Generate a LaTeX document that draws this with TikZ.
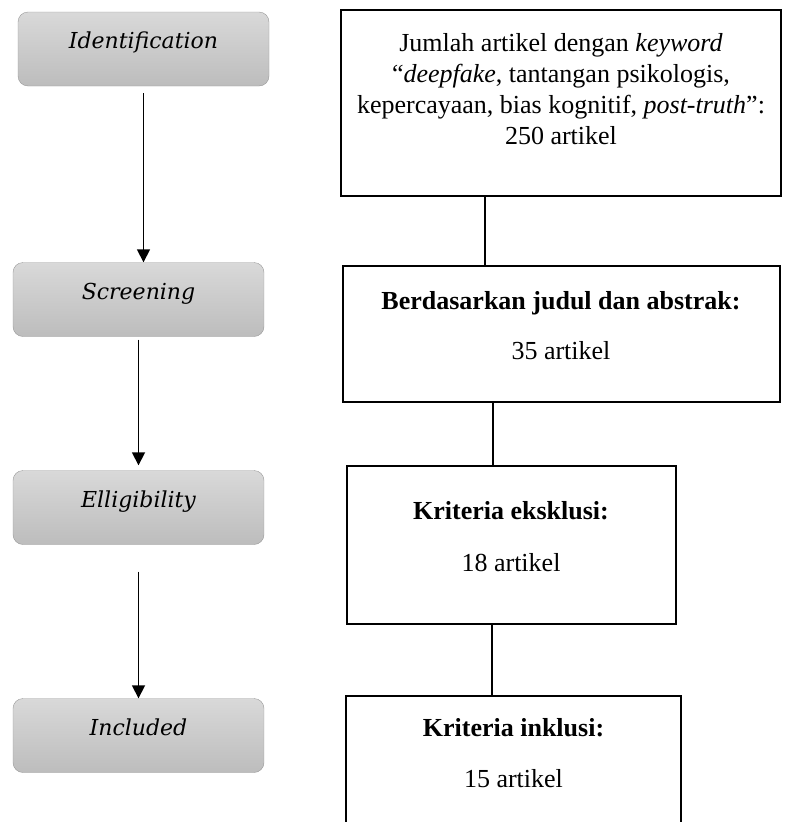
\documentclass[tikz,border=0pt]{standalone}
\usepackage{fontspec}
\setmainfont{Liberation Serif}
\newfontfamily\slabfont{DejaVu Serif}
\usepackage{tikz}
\usetikzlibrary{arrows.meta, positioning}

\begin{document}
\begin{tikzpicture}[x=1pt,y=-1pt,node distance=2cm,on grid,auto]
  \tikzstyle{stage}=[rectangle, rounded corners=10pt, draw=black!40, top color=black!15, bottom color=black!26, minimum width=251pt, minimum height=74pt, text height=16pt, text depth=17pt, font=\slabfont\itshape\fontsize{22}{26}\selectfont]
  \tikzstyle{result}=[rectangle, draw, line width=2pt, align=center, inner sep=0pt, font=\fontsize{26}{31}\selectfont]

  \useasboundingbox (0,0) rectangle (786,822);

  \node[stage](ident) at (143.5,49){Identification};
  \node[stage](screen)[below=250.5pt of ident, xshift=-5pt]{Screening};
  \node[stage](elig)[below=208pt of screen]{Elligibility};
  \node[stage](incl)[below=228pt of elig]{Included};

  \node[result, minimum width=440pt, minimum height=186pt, text depth=28pt](box1) at (561,103)
    {Jumlah artikel dengan \textit{keyword}\\“\textit{deepfake}, tantangan psikologis,\\kepercayaan, bias kognitif, \textit{post-truth}”:\\250 artikel};
  \node[result, minimum width=437pt, minimum height=136pt, text depth=18pt](box2)[below=231pt of box1]
    {\textbf{Berdasarkan judul dan abstrak:}\\[19pt]35 artikel};
  \node[result, minimum width=329pt, minimum height=158pt, text depth=18pt](box3)[below=211pt of box2, xshift=-50pt]
    {\textbf{Kriteria eksklusi:}\\[21pt]18 artikel};
  \node[result, draw=none, minimum width=333pt, minimum height=125pt, text depth=14pt](box4)[below=214.5pt of box3, xshift=2.5pt]
    {\textbf{Kriteria inklusi:}\\[20pt]15 artikel};
  \draw[line width=2pt] (box4.south west) |- (box4.north east) -- (box4.south east);

  \path[-{Triangle[width=13pt,length=13pt]}, line width=1.7pt]
  (ident)  edge [shorten <=7pt]                  (ident |- screen.north)
  (screen) edge [shorten <=3pt, shorten >=5pt]   (screen |- elig.north)
  (elig)   edge [shorten <=27pt]                 (elig |- incl.north);

  \draw[line width=1.8pt]
  ([xshift=-76pt]box1.south) -- ([xshift=-76pt]box1.south |- box2.north)
  ([xshift=-68pt]box2.south) -- ([xshift=-68pt]box2.south |- box3.north)
  ([xshift=-19pt]box3.south) -- ([xshift=-19pt]box3.south |- box4.north);
\end{tikzpicture}
\end{document}
